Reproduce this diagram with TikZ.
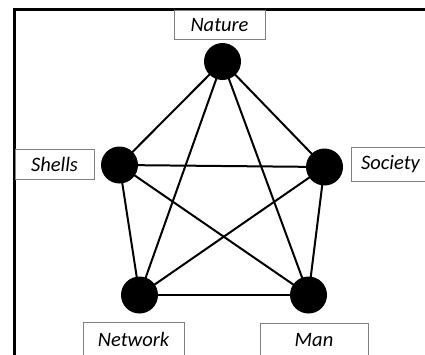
\documentclass[tikz,border=0pt]{standalone}
\usepackage{fontspec}
\setmainfont{Carlito}
\usetikzlibrary{backgrounds}
\begin{document}
\begin{tikzpicture}[x=1pt,y=-1pt,
    dot/.style={circle,fill=black,minimum size=37pt,inner sep=0pt},
    lbl/.style={draw=black!50,line width=0.8pt,inner sep=0pt,
      font=\fontsize{20.5}{24}\selectfont\itshape},
    link/.style={line width=2pt}]
  \useasboundingbox (0,0) rectangle (425,354);
  \clip (0,0) rectangle (425,354);
  \draw [line width=3pt] (14,360) -- (14,9) -- (430,9);
  % vertices
  \node [dot] (nature) at (222.5,61.5) {};
  \node [dot] (shells) at (119.5,165) {};
  \node [dot] (society) at (324.5,167) {};
  \node [dot] (network) at (139.5,295) {};
  \node [dot] (man) at (308.5,295) {};
  % labels
  \node [lbl,minimum width=91pt,minimum height=29pt] (naturelbl) at (219.5,24.5) {Nature};
  \node [lbl,minimum width=79pt,minimum height=30pt] (shellslbl) at (54.5,164) {Shells};
  \node [lbl,minimum width=79pt,minimum height=34pt] (societylbl) at (390.5,164) {Society};
  \node [lbl,minimum width=101pt,minimum height=34pt] (networklbl) at (133.5,339) {Network};
  \node [lbl,minimum width=108pt,minimum height=34pt] (manlbl) at (314,340) {Man};
  % every pair is joined
  \begin{scope}[on background layer]
    \foreach \a/\b in {nature/shells,nature/society,nature/network,nature/man,
      shells/society,shells/network,shells/man,
      society/network,society/man,network/man}
      \draw [link] (\a.center) -- (\b.center);
  \end{scope}
\end{tikzpicture}
\end{document}
